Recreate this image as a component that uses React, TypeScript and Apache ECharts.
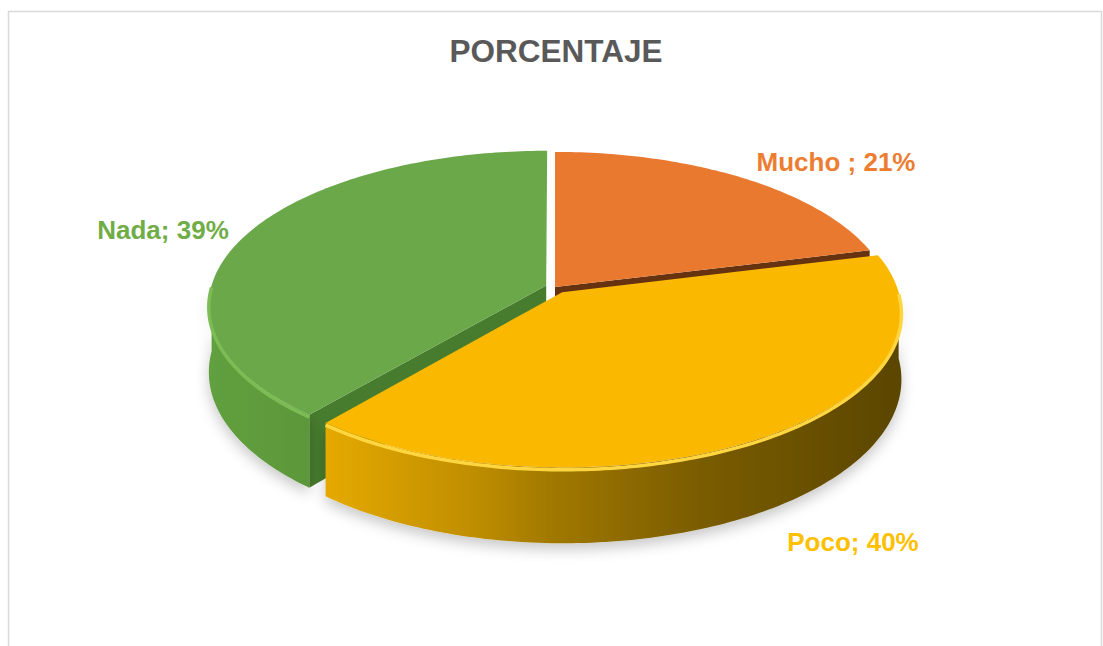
import React, { useEffect, useRef } from "react";
import * as echarts from "echarts";

// ---- data ----
const categories = ["Mucho ", "Poco", "Nada"];
const percentages = [21, 40, 39];
const explode = [0, 0.04, 0.028];
const chartTitle = "PORCENTAJE";

// ---- styles ----
const topColors = ["#E8792E", "#FAB900", "#6AA84A"];
const faceColors = ["#66320F", "#8A6800", "#477B2D"];
const rimColors = ["#F0A060", "#FFD640", "#7CBC54"];
const labelColors = ["#ED7D31", "#FFC000", "#70AD47"];
const LABEL_POS: number[][] = [
  [836, 162],
  [853, 542],
  [163, 230],
];

// ---- layout of the 3D pie ----
const CX = 555;
const CY = 287;
const RX = 335;
const RY = 152;
const PERSP = 8;
const DEPTH = 66;
const RAD = Math.PI / 180;

function project(theta: number, r: number, ou: number, ov: number, depth: number) {
  const t = theta * RAD;
  const u = r * Math.sin(t) + ou;
  const v = -r * Math.cos(t) + ov;
  const f = PERSP / (PERSP - v);
  return [CX + RX * u * f, CY + (RY * v + depth) * f];
}

function arc(a0: number, a1: number, ou: number, ov: number, depth: number) {
  const pts: number[][] = [];
  const n = Math.max(2, Math.ceil(Math.abs(a1 - a0)));
  for (let i = 0; i <= n; i++) {
    pts.push(project(a0 + ((a1 - a0) * i) / n, 1, ou, ov, depth));
  }
  return pts;
}

export default function App() {
  const ref = useRef<HTMLDivElement>(null);

  useEffect(() => {
    document.body.style.margin = "0";
    if (!ref.current) return;
    const chart = echarts.init(ref.current, null, { renderer: "svg" });

    const total = percentages.reduce((a, b) => a + b, 0);
    const starts: number[] = [];
    const ends: number[] = [];
    let acc = 0;
    percentages.forEach((p) => {
      starts.push((acc / total) * 360);
      acc += p;
      ends.push((acc / total) * 360);
    });
    const bisV = starts.map((s, i) => -Math.cos(((s + ends[i]) / 2) * RAD));
    const order = bisV.map((v, i) => ({ v, i })).sort((a, b) => a.v - b.v);
    const rank: number[] = [];
    order.forEach((o, k) => (rank[o.i] = k));

    const wallFill = (i: number) => {
      if (i === 1) {
        return new echarts.graphic.LinearGradient(
          320,
          0,
          905,
          0,
          [
            { offset: 0, color: "#E6AA00" },
            { offset: 0.26, color: "#C08E00" },
            { offset: 0.4, color: "#A07800" },
            { offset: 0.65, color: "#7A5C00" },
            { offset: 1, color: "#5A4500" },
          ],
          true
        );
      }
      if (i === 2) {
        return new echarts.graphic.LinearGradient(
          205,
          0,
          320,
          0,
          [
            { offset: 0, color: "#62A03F" },
            { offset: 1, color: "#5B9739" },
          ],
          true
        );
      }
      return "#B85E22";
    };

    const renderItem = (params: any, api: any) => {
      const i = params.dataIndex;
      const s = starts[i];
      const e = ends[i];
      const bis = ((s + e) / 2) * RAD;
      const ou = explode[i] * Math.sin(bis);
      const ov = -explode[i] * Math.cos(bis);
      const base = rank[i] * 10;
      const children: any[] = [];

      const faceAt = (a: number) => ({
        type: "polygon",
        z2: base + 1,
        shape: {
          points: [
            project(a, 0, ou, ov, 0),
            project(a, 1, ou, ov, 0),
            project(a, 1, ou, ov, DEPTH),
            project(a, 0, ou, ov, DEPTH),
          ],
        },
        style: { fill: faceColors[i] },
      });
      if (-Math.cos((s - 90) * RAD) > 0.05) children.push(faceAt(s));
      if (-Math.cos((e + 90) * RAD) > 0.05) children.push(faceAt(e));

      const w0 = Math.max(s, 90);
      const w1 = Math.min(e, 270);
      if (w1 > w0) {
        const pts = arc(w0, w1, ou, ov, 0).concat(arc(w1, w0, ou, ov, DEPTH));
        children.push({
          type: "polygon",
          z2: base + 2,
          shape: { points: pts },
          style: {
            fill: wallFill(i),
            shadowBlur: 14,
            shadowColor: "rgba(0,0,0,0.22)",
            shadowOffsetY: 6,
          },
        });
      }

      const top = [project(0, 0, ou, ov, 0)].concat(arc(s, e, ou, ov, 0));
      children.push({
        type: "polygon",
        z2: base + 3,
        shape: { points: top },
        style: { fill: topColors[i] },
      });

      if (w1 > w0) {
        children.push({
          type: "polyline",
          z2: base + 4,
          shape: { points: arc(w0, w1, ou, ov, 2) },
          style: { stroke: rimColors[i], lineWidth: 3.5, fill: null },
        });
      }

      const val = api.value(0);
      children.push({
        type: "text",
        z2: 100,
        x: LABEL_POS[i][0],
        y: LABEL_POS[i][1],
        style: {
          text: categories[i] + "; " + val + "%",
          fill: labelColors[i],
          font: 'bold 26px "Liberation Sans", Arial, sans-serif',
          align: "center",
          verticalAlign: "middle",
        },
      });

      return { type: "group", children };
    };

    chart.setOption({
      animation: false,
      backgroundColor: "#FFFFFF",
      graphic: [
        {
          type: "rect",
          shape: { x: 8.5, y: 11.5, width: 1093, height: 700 },
          style: { fill: "none", stroke: "#D9D9D9", lineWidth: 1.5 },
          silent: true,
        },
        {
          type: "text",
          x: 556,
          y: 51,
          style: {
            text: chartTitle,
            fill: "#595959",
            font: 'bold 31.5px "Liberation Sans", Arial, sans-serif',
            align: "center",
            verticalAlign: "middle",
          },
          silent: true,
        },
      ],
      series: [
        {
          type: "custom",
          coordinateSystem: "none",
          renderItem,
          data: percentages.map((v, i) => ({ value: v, name: categories[i] })),
        },
      ],
    });

    return () => chart.dispose();
  }, []);

  return <div ref={ref} style={{ width: 1103, height: 646 }} />;
}
